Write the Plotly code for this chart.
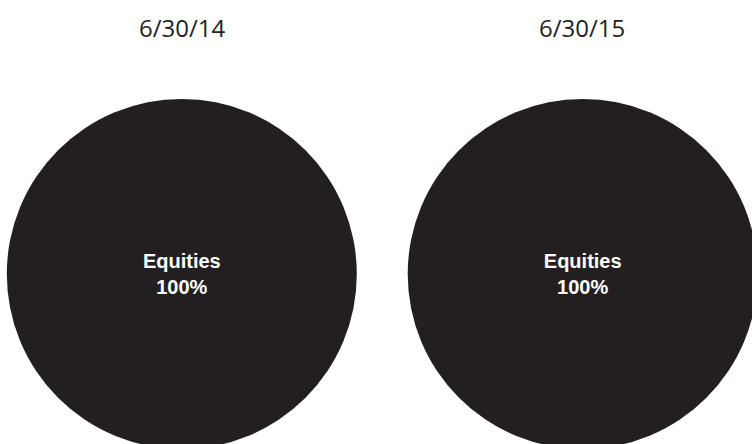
import plotly.graph_objects as go

dates = ["6/30/14", "6/30/15"]
labels = ["Equities"]
values_2014 = [100]
values_2015 = [100]

W, H = 760, 452
color = "#231f20"

def dom(cx, cy, r):
    return dict(x=[(cx - r) / W, (cx + r) / W], y=[(H - (cy + r)) / H, (H - (cy - r)) / H])

fig = go.Figure()
for vals, (cx, cy) in zip([values_2014, values_2015], [(181.8, 274), (582.7, 274)]):
    fig.add_trace(go.Pie(
        labels=labels, values=vals, domain=dom(cx, cy, 175),
        marker=dict(colors=[color], line=dict(width=0)),
        texttemplate="<b>%{label}</b><br><b>%{percent:.0%}</b>",
        textposition="inside", insidetextorientation="horizontal",
        insidetextfont=dict(family="Liberation Sans, Arial, sans-serif", size=20, color="white"),
        sort=False, hoverinfo="none", showlegend=False,
    ))

for d, cx in zip(dates, [182, 582]):
    fig.add_annotation(text=d, x=cx / W, y=(H - 27) / H, xref="paper", yref="paper",
                       xanchor="center", yanchor="middle", showarrow=False,
                       font=dict(family="Open Sans, sans-serif", size=24, color=color))

fig.update_layout(width=W, height=H, margin=dict(l=0, r=0, t=0, b=0),
                  paper_bgcolor="white", plot_bgcolor="white")
fig.write_html("out.html", config={"displayModeBar": False},
               post_script="document.body.style.margin='0';document.body.style.overflow='hidden';"
                           "document.documentElement.style.overflow='hidden';")
